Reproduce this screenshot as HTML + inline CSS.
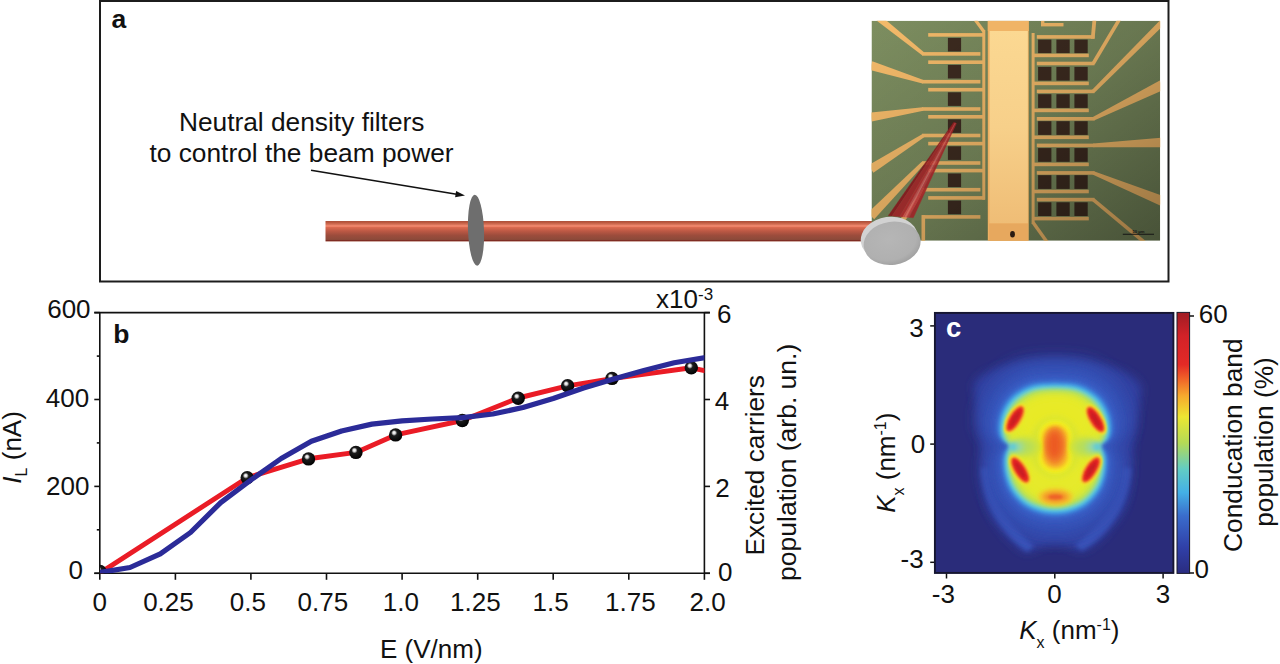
<!DOCTYPE html><html><head><meta charset="utf-8"><title>Figure</title>
<style>html,body{margin:0;padding:0;background:#fff;}svg{display:block;}text{font-family:"Liberation Sans",Arial,sans-serif;}</style></head><body>
<svg width="1280" height="664" viewBox="0 0 1280 664">
<defs>
<linearGradient id="rod" x1="0" y1="0" x2="0" y2="1">
<stop offset="0" stop-color="#a9503c"/>
<stop offset="0.06" stop-color="#b9553c"/>
<stop offset="0.2" stop-color="#e07a60"/>
<stop offset="0.24" stop-color="#f98e74"/>
<stop offset="0.32" stop-color="#d9694f"/>
<stop offset="0.5" stop-color="#bb5844"/>
<stop offset="0.7" stop-color="#9c4c3c"/>
<stop offset="0.9" stop-color="#8c4a3a"/>
<stop offset="0.95" stop-color="#7e2a22"/>
<stop offset="1" stop-color="#a25a4a"/>
</linearGradient>
<linearGradient id="chipg" x1="0" y1="0" x2="1" y2="1">
<stop offset="0" stop-color="#7d8e60"/>
<stop offset="1" stop-color="#74855a"/>
</linearGradient>
<linearGradient id="chipshade" x1="0" y1="0" x2="1" y2="1">
<stop offset="0" stop-color="#000" stop-opacity="0"/>
<stop offset="0.5" stop-color="#000" stop-opacity="0.14"/>
<stop offset="1" stop-color="#000" stop-opacity="0.38"/>
</linearGradient>
<linearGradient id="stripg" x1="0" y1="0" x2="0" y2="1">
<stop offset="0" stop-color="#fbd892"/>
<stop offset="0.5" stop-color="#f7d08a"/>
<stop offset="1" stop-color="#efbd76"/>
</linearGradient>
<linearGradient id="coneg" x1="0" y1="0" x2="1" y2="0">
<stop offset="0" stop-color="#8e1c20"/>
<stop offset="0.45" stop-color="#b42a2e"/>
<stop offset="0.62" stop-color="#d85a5c"/>
<stop offset="0.75" stop-color="#c0363a"/>
<stop offset="1" stop-color="#a02428"/>
</linearGradient>
<radialGradient id="sph" cx="0.42" cy="0.4" r="0.62" fx="0.38" fy="0.33">
<stop offset="0" stop-color="#ffffff"/>
<stop offset="0.16" stop-color="#dcdcdc"/>
<stop offset="0.36" stop-color="#1c1c1c"/>
<stop offset="1" stop-color="#000000"/>
</radialGradient>
<linearGradient id="cbar" x1="0" y1="1" x2="0" y2="0">
<stop offset="0" stop-color="#2a2c80"/>
<stop offset="0.1" stop-color="#3040a8"/>
<stop offset="0.22" stop-color="#3a6ccc"/>
<stop offset="0.31" stop-color="#44b0e6"/>
<stop offset="0.4" stop-color="#62ccc4"/>
<stop offset="0.5" stop-color="#b4da56"/>
<stop offset="0.6" stop-color="#ece632"/>
<stop offset="0.68" stop-color="#f6aa2e"/>
<stop offset="0.75" stop-color="#f05e28"/>
<stop offset="0.8" stop-color="#e42a26"/>
<stop offset="0.91" stop-color="#d22228"/>
<stop offset="1" stop-color="#a01c24"/>
</linearGradient>
<clipPath id="clipb"><rect x="100" y="312.6" width="604.4" height="260.7"/></clipPath>
<clipPath id="clipc"><rect x="934" y="312" width="240" height="261.5"/></clipPath>
<clipPath id="clipchip"><rect x="871.5" y="20.7" width="288.7" height="220"/></clipPath>
<filter id="b1" x="-50%" y="-50%" width="200%" height="200%"><feGaussianBlur stdDeviation="1"/></filter>
<filter id="b2" x="-50%" y="-50%" width="200%" height="200%"><feGaussianBlur stdDeviation="2"/></filter>
<filter id="b3" x="-50%" y="-50%" width="200%" height="200%"><feGaussianBlur stdDeviation="3"/></filter>
<filter id="b5" x="-50%" y="-50%" width="200%" height="200%"><feGaussianBlur stdDeviation="5"/></filter>
<filter id="b8" x="-50%" y="-50%" width="200%" height="200%"><feGaussianBlur stdDeviation="8"/></filter>
<filter id="b12" x="-50%" y="-50%" width="200%" height="200%"><feGaussianBlur stdDeviation="12"/></filter>
<filter id="b07" x="-20%" y="-20%" width="140%" height="140%"><feGaussianBlur stdDeviation="0.6"/></filter>
<radialGradient id="diskf" cx="0.45" cy="0.4" r="0.6"><stop offset="0" stop-color="#b6b6b6"/><stop offset="0.8" stop-color="#b0b0b0"/><stop offset="1" stop-color="#a2a2a2"/></radialGradient>
</defs>
<rect width="1280" height="664" fill="#fff"/>
<rect x="100" y="1" width="1068.5" height="280.5" fill="none" stroke="#1c1c1c" stroke-width="2"/>
<text x="118.9" y="27.7" font-size="26.5" font-weight="bold" text-anchor="middle" fill="#111">a</text>
<text x="301.7" y="130.8" font-size="26.3" text-anchor="middle" fill="#111">Neutral density filters</text>
<text x="301.5" y="162" font-size="26.3" text-anchor="middle" fill="#111">to control the beam power</text>
<line x1="311" y1="170.3" x2="456.6" y2="194.2" stroke="#111" stroke-width="1.6"/>
<polygon points="465,195.6 455.1,197.2 456.1,190.9" fill="#111"/>
<rect x="325.5" y="221" width="560" height="20.5" fill="url(#rod)"/>
<ellipse cx="476" cy="230.2" rx="8" ry="35.5" fill="#6e6e6e" transform="rotate(-2 476 230.2)"/>
<g clip-path="url(#clipchip)">
<rect x="871.5" y="20.7" width="288.7" height="220" fill="url(#chipg)"/>
<rect x="947.9" y="37.9" width="13.2" height="13.6" fill="#3d2b20"/>
<rect x="947.9" y="64.9" width="13.2" height="13.6" fill="#3d2b20"/>
<rect x="947.9" y="92.3" width="13.2" height="13.6" fill="#3d2b20"/>
<rect x="947.9" y="119.3" width="13.2" height="13.6" fill="#3d2b20"/>
<rect x="947.9" y="146.3" width="13.2" height="13.6" fill="#3d2b20"/>
<rect x="947.9" y="173.5" width="13.2" height="13.6" fill="#3d2b20"/>
<rect x="947.9" y="200.6" width="13.2" height="13.6" fill="#3d2b20"/>
<rect x="1038.1" y="39.6" width="13.3" height="13.7" fill="#3d2b20"/>
<rect x="1056.4" y="39.6" width="13.3" height="13.7" fill="#3d2b20"/>
<rect x="1074.4" y="39.6" width="13.3" height="13.7" fill="#3d2b20"/>
<rect x="1038.1" y="66.9" width="13.3" height="13.7" fill="#3d2b20"/>
<rect x="1056.4" y="66.9" width="13.3" height="13.7" fill="#3d2b20"/>
<rect x="1074.4" y="66.9" width="13.3" height="13.7" fill="#3d2b20"/>
<rect x="1038.1" y="94.2" width="13.3" height="13.7" fill="#3d2b20"/>
<rect x="1056.4" y="94.2" width="13.3" height="13.7" fill="#3d2b20"/>
<rect x="1074.4" y="94.2" width="13.3" height="13.7" fill="#3d2b20"/>
<rect x="1038.1" y="121.2" width="13.3" height="13.7" fill="#3d2b20"/>
<rect x="1056.4" y="121.2" width="13.3" height="13.7" fill="#3d2b20"/>
<rect x="1074.4" y="121.2" width="13.3" height="13.7" fill="#3d2b20"/>
<rect x="1038.1" y="148.1" width="13.3" height="13.7" fill="#3d2b20"/>
<rect x="1056.4" y="148.1" width="13.3" height="13.7" fill="#3d2b20"/>
<rect x="1074.4" y="148.1" width="13.3" height="13.7" fill="#3d2b20"/>
<rect x="1038.1" y="175.2" width="13.3" height="13.7" fill="#3d2b20"/>
<rect x="1056.4" y="175.2" width="13.3" height="13.7" fill="#3d2b20"/>
<rect x="1074.4" y="175.2" width="13.3" height="13.7" fill="#3d2b20"/>
<rect x="1038.1" y="202.3" width="13.3" height="13.7" fill="#3d2b20"/>
<rect x="1056.4" y="202.3" width="13.3" height="13.7" fill="#3d2b20"/>
<rect x="1074.4" y="202.3" width="13.3" height="13.7" fill="#3d2b20"/>
<rect x="928.2" y="33.1" width="56.8" height="3.6" fill="#f5bb6a"/>
<rect x="928.2" y="60.4" width="56.8" height="3.6" fill="#f5bb6a"/>
<rect x="928.2" y="87.9" width="56.8" height="3.6" fill="#f5bb6a"/>
<rect x="928.2" y="115.0" width="56.8" height="3.6" fill="#f5bb6a"/>
<rect x="928.2" y="141.8" width="56.8" height="3.6" fill="#f5bb6a"/>
<rect x="928.2" y="168.8" width="56.8" height="3.6" fill="#f5bb6a"/>
<rect x="928.2" y="196.1" width="56.8" height="3.6" fill="#f5bb6a"/>
<rect x="982.3" y="30" width="3" height="169.7" fill="#f5bb6a"/>
<line x1="975.4" y1="20.0" x2="983.8" y2="31.5" stroke="#f5bb6a" stroke-width="3.2" stroke-linecap="butt"/>
<rect x="922.0" y="52.1" width="58.4" height="3.6" fill="#f5bb6a"/>
<rect x="922.0" y="79.9" width="58.4" height="3.6" fill="#f5bb6a"/>
<rect x="922.0" y="107.2" width="58.4" height="3.6" fill="#f5bb6a"/>
<rect x="922.0" y="133.7" width="58.4" height="3.6" fill="#f5bb6a"/>
<rect x="922.0" y="161.2" width="58.4" height="3.6" fill="#f5bb6a"/>
<rect x="922.0" y="187.9" width="58.4" height="3.6" fill="#f5bb6a"/>
<rect x="922.0" y="215.1" width="58.4" height="3.6" fill="#f5bb6a"/>
<polygon points="924.3,52.5 880.5,15.5 876.5,20.5 922.1,55.3" fill="#f5bb6a"/>
<polygon points="923.5,80.0 872.3,61.2 869.7,69.8 922.5,83.4" fill="#f5bb6a"/>
<polygon points="922.7,107.2 870.3,112.6 871.7,121.4 923.3,110.8" fill="#f5bb6a"/>
<polygon points="922.5,134.0 868.6,165.2 873.4,172.8 924.5,137.0" fill="#f5bb6a"/>
<polygon points="921.7,161.7 867.8,212.8 874.2,219.2 924.3,164.3" fill="#f5bb6a"/>
<polygon points="922.5,188.7 882.5,243.3 887.5,246.7 925.5,190.7" fill="#f5bb6a"/>
<rect x="921.5" y="215.1" width="3.6" height="30" fill="#f5bb6a"/>
<rect x="1031.6" y="33" width="3" height="191" fill="#f5bb6a"/>
<line x1="1033.1" y1="222.5" x2="1047.0" y2="242.0" stroke="#f5bb6a" stroke-width="3.4" stroke-linecap="butt"/>
<rect x="1032.0" y="53.6" width="56.8" height="3.6" fill="#f5bb6a"/>
<rect x="1032.0" y="81.6" width="56.8" height="3.6" fill="#f5bb6a"/>
<rect x="1032.0" y="108.6" width="56.8" height="3.6" fill="#f5bb6a"/>
<rect x="1032.0" y="135.5" width="56.8" height="3.6" fill="#f5bb6a"/>
<rect x="1032.0" y="162.6" width="56.8" height="3.6" fill="#f5bb6a"/>
<rect x="1032.0" y="189.7" width="56.8" height="3.6" fill="#f5bb6a"/>
<rect x="1032.0" y="216.8" width="56.8" height="3.6" fill="#f5bb6a"/>
<rect x="1036.8" y="35.1" width="57.7" height="3.6" fill="#f5bb6a"/>
<rect x="1036.8" y="61.7" width="57.7" height="3.6" fill="#f5bb6a"/>
<rect x="1036.8" y="89.6" width="57.7" height="3.6" fill="#f5bb6a"/>
<rect x="1036.8" y="117.0" width="57.7" height="3.6" fill="#f5bb6a"/>
<rect x="1036.8" y="143.6" width="57.7" height="3.6" fill="#f5bb6a"/>
<rect x="1036.8" y="171.1" width="57.7" height="3.6" fill="#f5bb6a"/>
<rect x="1036.8" y="197.8" width="57.7" height="3.6" fill="#f5bb6a"/>
<polygon points="1090.8,38.7 1094.6,38.7 1096.4,19 1092.6,19" fill="#f5bb6a"/>
<line x1="1093.2" y1="63.5" x2="1119.6" y2="19.0" stroke="#f5bb6a" stroke-width="3.6" stroke-linecap="butt"/>
<polygon points="1094.5,92.7 1164.1,24.6 1159.9,20.4 1091.9,90.1" fill="#f5bb6a"/>
<polygon points="1094.0,120.4 1164.2,89.5 1159.8,80.5 1092.4,117.2" fill="#f5bb6a"/>
<polygon points="1093.3,147.2 1162.2,147.2 1161.8,137.8 1093.1,143.6" fill="#f5bb6a"/>
<polygon points="1092.5,174.6 1160.1,205.6 1163.9,196.4 1093.9,171.2" fill="#f5bb6a"/>
<line x1="1093.2" y1="199.6" x2="1146.5" y2="244.0" stroke="#f5bb6a" stroke-width="3.6" stroke-linecap="butt"/>
<rect x="1041" y="23" width="22.5" height="3.4" fill="#f5bb6a"/>
<rect x="1041" y="20.7" width="3.4" height="5" fill="#f5bb6a"/>
<rect x="871.5" y="20.7" width="288.7" height="220" fill="url(#chipshade)"/>
<rect x="987.8" y="20.7" width="40.9" height="222" fill="#eeb062"/>
<rect x="989.6" y="31" width="38.2" height="192.5" fill="url(#stripg)"/>
<rect x="987.8" y="20.7" width="40.9" height="10.3" fill="#f0b466"/>
<rect x="989" y="223.5" width="39" height="18" fill="#e7a85e"/>
<ellipse cx="1012.5" cy="234.3" rx="2.4" ry="3.2" fill="#2a1a12"/>
<line x1="1122.8" y1="234.3" x2="1154" y2="234.3" stroke="#141414" stroke-width="1.1"/>
<text x="1138.5" y="232.6" font-size="4.2" font-weight="bold" text-anchor="middle" fill="#141414">50 μm</text>
</g>
<g filter="url(#b07)" opacity="0.9">
<polygon points="953.60,122.20 954.02,122.38 891.98,216.10 888.20,215.80" fill="#84181c" stroke="#84181c" stroke-width="0.3"/>
<polygon points="954.02,122.38 954.86,122.74 899.54,216.70 891.98,216.10" fill="#9c2226" stroke="#9c2226" stroke-width="0.3"/>
<polygon points="954.86,122.74 955.22,122.90 902.82,216.96 899.54,216.70" fill="#ac282c" stroke="#ac282c" stroke-width="0.3"/>
<polygon points="955.22,122.90 955.45,122.99 904.83,217.12 902.82,216.96" fill="#c04448" stroke="#c04448" stroke-width="0.3"/>
<polygon points="955.45,122.99 955.64,123.08 906.60,217.26 904.83,217.12" fill="#cc6060" stroke="#cc6060" stroke-width="0.3"/>
<polygon points="955.64,123.08 955.95,123.21 909.37,217.48 906.60,217.26" fill="#b4343a" stroke="#b4343a" stroke-width="0.3"/>
<polygon points="955.95,123.21 956.40,123.40 913.40,217.80 909.37,217.48" fill="#a02428" stroke="#a02428" stroke-width="0.3"/>
</g>
<g transform="rotate(-8 891 241)">
<ellipse cx="889.6" cy="238.2" rx="28.6" ry="21.6" fill="#d2d2d2"/>
<ellipse cx="891.8" cy="243.4" rx="28.6" ry="21.6" fill="url(#diskf)"/>
</g>
<g stroke="#111" stroke-width="1.6" fill="none">
<path d="M94.3,312.6 H709.8 M99.8,312.6 V573.3 M704.4,312.6 V573.3 M94.3,573.3 H710"/>
<path d="M99.8,573.3 V579.8"/>
<path d="M175.4,573.3 V579.8"/>
<path d="M250.9,573.3 V579.8"/>
<path d="M326.5,573.3 V579.8"/>
<path d="M402.1,573.3 V579.8"/>
<path d="M477.7,573.3 V579.8"/>
<path d="M553.2,573.3 V579.8"/>
<path d="M628.8,573.3 V579.8"/>
<path d="M704.4,573.3 V579.8"/>
<path d="M94.3,573.3 H99.8"/>
<path d="M94.3,486.4 H99.8"/>
<path d="M94.3,399.5 H99.8"/>
<path d="M94.3,312.6 H99.8"/>
<path d="M96.8,529.8 H99.8"/>
<path d="M96.8,442.9 H99.8"/>
<path d="M96.8,356.1 H99.8"/>
<path d="M704.4,573.3 H710"/>
<path d="M704.4,486.4 H710"/>
<path d="M704.4,399.5 H710"/>
<path d="M704.4,312.6 H710"/>
</g>
<text x="99.85" y="610.6" font-size="26" text-anchor="middle" fill="#111">0</text>
<text x="168.45" y="610.6" font-size="26" text-anchor="middle" fill="#111">0.25</text>
<text x="247.8" y="610.6" font-size="26" text-anchor="middle" fill="#111">0.5</text>
<text x="322.85" y="610.6" font-size="26" text-anchor="middle" fill="#111">0.75</text>
<text x="400.95" y="610.6" font-size="26" text-anchor="middle" fill="#111">1.0</text>
<text x="475.4" y="610.6" font-size="26" text-anchor="middle" fill="#111">1.25</text>
<text x="550.7" y="610.6" font-size="26" text-anchor="middle" fill="#111">1.5</text>
<text x="630.4" y="610.6" font-size="26" text-anchor="middle" fill="#111">1.75</text>
<text x="707.65" y="610.6" font-size="26" text-anchor="middle" fill="#111">2.0</text>
<text x="68.9" y="317.50" font-size="26" text-anchor="middle" fill="#111">600</text>
<text x="67.55" y="407.35" font-size="26" text-anchor="middle" fill="#111">400</text>
<text x="67.8" y="494.65" font-size="26" text-anchor="middle" fill="#111">200</text>
<text x="75.65" y="579.40" font-size="26" text-anchor="middle" fill="#111">0</text>
<text x="724.3" y="323.40" font-size="26" text-anchor="middle" fill="#111">6</text>
<text x="722.1" y="409.50" font-size="26" text-anchor="middle" fill="#111">4</text>
<text x="722.4" y="496.65" font-size="26" text-anchor="middle" fill="#111">2</text>
<text x="725.3" y="581.35" font-size="26" text-anchor="middle" fill="#111">0</text>
<text x="656" y="308.2" font-size="26" fill="#111">x10</text>
<text x="698" y="299.6" font-size="17" fill="#111">-3</text>
<text x="121.3" y="343.35" font-size="26.5" font-weight="bold" text-anchor="middle" fill="#111">b</text>
<text x="431.3" y="658" font-size="26" text-anchor="middle" fill="#111">E (V/nm)</text>
<text transform="translate(21.3,447.4) rotate(-90)" font-size="26" text-anchor="middle" fill="#111"><tspan font-style="italic">I</tspan><tspan font-size="16" dy="6">L</tspan><tspan dy="-6"> (nA)</tspan></text>
<text transform="translate(763.8,465.3) rotate(-90)" font-size="26.2" text-anchor="middle" fill="#111">Excited carriers</text>
<text transform="translate(795.8,462.3) rotate(-90)" font-size="26.5" text-anchor="middle" fill="#111">population (arb. un.)</text>
<g clip-path="url(#clipb)">
<path d="M100.0,573.0 L247.2,477.7 L308.6,458.8 L355.9,452.4 L395.6,434.9 L462.3,420.5 L518.2,398.0 L567.6,385.8 L612.0,378.6 L691.3,367.8 L706.0,371.0" fill="none" stroke="#ea1c26" stroke-width="4.9" stroke-linejoin="round"/>
<circle cx="100" cy="571.5" r="6.7" fill="url(#sph)"/>
<circle cx="247.2" cy="477.7" r="6.7" fill="url(#sph)"/>
<circle cx="308.5" cy="458.9" r="6.7" fill="url(#sph)"/>
<circle cx="355.9" cy="452.4" r="6.7" fill="url(#sph)"/>
<circle cx="395.6" cy="434.9" r="6.7" fill="url(#sph)"/>
<circle cx="462.3" cy="420.5" r="6.7" fill="url(#sph)"/>
<circle cx="518.2" cy="398.3" r="6.7" fill="url(#sph)"/>
<circle cx="567.6" cy="385.8" r="6.7" fill="url(#sph)"/>
<circle cx="612" cy="378.4" r="6.7" fill="url(#sph)"/>
<circle cx="691.3" cy="367.8" r="6.7" fill="url(#sph)"/>
<path d="M99.8,572.5 L130.0,567.5 L160.3,553.8 L190.5,532.5 L220.7,502.6 L250.9,480.0 L281.2,458.5 L311.4,441.3 L341.6,431.0 L371.9,424.1 L402.1,420.8 L432.3,419.0 L462.6,417.6 L492.8,414.0 L523.0,407.5 L553.2,398.5 L583.5,388.0 L613.7,379.0 L643.9,370.5 L674.2,362.8 L706.0,357.5" fill="none" stroke="#2b2b98" stroke-width="5.2" stroke-linejoin="round"/>
</g>
<g clip-path="url(#clipc)">
<rect x="934" y="312" width="240" height="262" fill="#2a2c7a"/>
<path d="M1055.0,360.0 C1049.2,360.5 1030.3,361.3 1020.0,363.0 C1009.7,364.7 1000.5,366.8 993.0,370.0 C985.5,373.2 977.8,377.0 975.0,382.0 C972.2,387.0 975.3,393.7 976.0,400.0 C976.7,406.3 978.2,412.5 979.0,420.0 C979.8,427.5 980.3,434.5 981.0,445.0 C981.7,455.5 981.8,472.5 983.0,483.0 C984.2,493.5 985.5,500.8 988.0,508.0 C990.5,515.2 994.3,520.7 998.0,526.0 C1001.7,531.3 1005.3,535.7 1010.0,540.0 C1014.7,544.3 1021.0,550.8 1026.0,552.0 C1031.0,553.2 1035.2,548.3 1040.0,547.0 C1044.8,545.7 1050.0,544.0 1055.0,544.0 C1060.0,544.0 1065.5,545.8 1070.0,547.0 C1074.5,548.2 1077.0,552.2 1082.0,551.0 C1087.0,549.8 1095.0,544.2 1100.0,540.0 C1105.0,535.8 1108.0,531.3 1112.0,526.0 C1116.0,520.7 1121.0,515.2 1124.0,508.0 C1127.0,500.8 1128.5,493.5 1130.0,483.0 C1131.5,472.5 1131.8,455.5 1133.0,445.0 C1134.2,434.5 1135.8,427.5 1137.0,420.0 C1138.2,412.5 1139.5,406.0 1140.0,400.0 C1140.5,394.0 1143.3,389.0 1140.0,384.0 C1136.7,379.0 1128.3,373.5 1120.0,370.0 C1111.7,366.5 1100.8,364.7 1090.0,363.0 C1079.2,361.3 1060.8,360.5 1055.0,360.0 Z" fill="#3040a0" filter="url(#b5)"/>
<g filter="url(#b2)" fill="#3c5cc4" opacity="0.7">
<path d="M981,468 C983,500 999,532 1027,552 L1034,546 C1010,526 995,500 991,468 Z"/>
<path d="M1131,468 C1129,500 1113,532 1082,551 L1075,545 C1100,526 1115,500 1121,468 Z"/>
</g>
<path d="M1055.0,358.5 C1060.4,359.1 1078.0,359.0 1087.7,362.1 C1097.4,365.2 1106.6,371.0 1113.2,377.0 C1119.8,383.0 1124.3,391.2 1127.4,398.3 C1130.5,405.4 1131.4,413.7 1131.7,419.6 C1131.9,425.5 1130.7,430.2 1128.8,433.8 C1126.9,437.4 1122.7,438.8 1120.3,440.9 C1118.0,443.0 1114.4,444.7 1114.6,446.6 C1114.9,448.5 1120.0,449.2 1121.7,452.3 C1123.5,455.3 1125.1,459.4 1125.3,465.0 C1125.5,470.7 1124.9,479.2 1123.2,486.3 C1121.4,493.4 1118.9,501.0 1114.6,507.6 C1110.4,514.3 1104.0,521.4 1097.6,526.1 C1091.2,530.8 1083.4,533.9 1076.3,536.0 C1069.2,538.2 1062.1,538.9 1055.0,538.9 C1047.9,538.9 1040.8,538.2 1033.7,536.0 C1026.6,533.9 1018.8,530.8 1012.4,526.1 C1006.0,521.4 999.6,514.3 995.4,507.6 C991.1,501.0 988.6,493.4 986.8,486.3 C985.1,479.2 984.5,470.7 984.7,465.0 C984.9,459.4 986.5,455.3 988.3,452.3 C990.0,449.2 995.1,448.5 995.4,446.6 C995.6,444.7 992.0,443.0 989.7,440.9 C987.3,438.8 983.1,437.4 981.2,433.8 C979.3,430.2 978.1,425.5 978.3,419.6 C978.6,413.7 979.5,405.4 982.6,398.3 C985.7,391.2 990.2,383.0 996.8,377.0 C1003.4,371.0 1012.6,365.2 1022.3,362.1 C1032.0,359.0 1049.6,359.1 1055.0,358.5 Z" fill="#3349ac" filter="url(#b8)"/>
<path d="M1055.0,366.1 C1060.0,366.6 1076.0,366.5 1084.9,369.4 C1093.8,372.2 1102.2,377.5 1108.3,383.0 C1114.4,388.5 1118.5,396.0 1121.3,402.5 C1124.1,409.0 1125.0,416.6 1125.2,422.0 C1125.4,427.4 1124.3,431.8 1122.6,435.0 C1120.9,438.2 1117.0,439.6 1114.8,441.5 C1112.6,443.4 1109.4,445.0 1109.6,446.7 C1109.8,448.4 1114.5,449.1 1116.1,451.9 C1117.7,454.7 1119.1,458.4 1119.3,463.6 C1119.6,468.8 1119.0,476.6 1117.4,483.1 C1115.8,489.6 1113.5,496.5 1109.6,502.6 C1105.7,508.7 1099.8,515.2 1094.0,519.5 C1088.2,523.8 1081.0,526.6 1074.5,528.6 C1068.0,530.6 1061.5,531.2 1055.0,531.2 C1048.5,531.2 1042.0,530.6 1035.5,528.6 C1029.0,526.6 1021.9,523.8 1016.0,519.5 C1010.1,515.2 1004.3,508.7 1000.4,502.6 C996.5,496.5 994.2,489.6 992.6,483.1 C991.0,476.6 990.4,468.8 990.6,463.6 C990.9,458.4 992.3,454.7 993.9,451.9 C995.5,449.1 1000.2,448.4 1000.4,446.7 C1000.6,445.0 997.4,443.4 995.2,441.5 C993.0,439.6 989.1,438.2 987.4,435.0 C985.7,431.8 984.6,427.4 984.8,422.0 C985.0,416.6 985.9,409.0 988.7,402.5 C991.5,396.0 995.6,388.5 1001.7,383.0 C1007.8,377.5 1016.2,372.2 1025.1,369.4 C1034.0,366.5 1050.0,366.6 1055.0,366.1 Z" fill="#3552b8" filter="url(#b8)"/>
<path d="M1055.0,374.3 C1059.5,374.8 1073.9,374.7 1081.9,377.2 C1089.9,379.8 1097.5,384.5 1103.0,389.5 C1108.4,394.5 1112.1,401.2 1114.7,407.1 C1117.2,412.9 1118.0,419.7 1118.2,424.6 C1118.4,429.5 1117.4,433.4 1115.8,436.3 C1114.3,439.2 1110.8,440.4 1108.8,442.1 C1106.9,443.9 1103.9,445.3 1104.1,446.8 C1104.3,448.4 1108.5,449.0 1110.0,451.5 C1111.5,454.0 1112.7,457.4 1112.9,462.0 C1113.1,466.7 1112.6,473.7 1111.2,479.6 C1109.7,485.4 1107.7,491.7 1104.1,497.1 C1100.6,502.6 1095.4,508.5 1090.1,512.4 C1084.8,516.2 1078.4,518.8 1072.5,520.5 C1066.7,522.3 1060.8,522.9 1055.0,522.9 C1049.2,522.9 1043.3,522.3 1037.5,520.5 C1031.6,518.8 1025.2,516.2 1019.9,512.4 C1014.6,508.5 1009.4,502.6 1005.9,497.1 C1002.4,491.7 1000.3,485.4 998.8,479.6 C997.4,473.7 996.9,466.7 997.1,462.0 C997.3,457.4 998.5,454.0 1000.0,451.5 C1001.5,449.0 1005.7,448.4 1005.9,446.8 C1006.1,445.3 1003.1,443.9 1001.2,442.1 C999.2,440.4 995.7,439.2 994.2,436.3 C992.6,433.4 991.6,429.5 991.8,424.6 C992.0,419.7 992.8,412.9 995.3,407.1 C997.9,401.2 1001.6,394.5 1007.0,389.5 C1012.5,384.5 1020.1,379.8 1028.1,377.2 C1036.1,374.7 1050.5,374.8 1055.0,374.3 Z" fill="#3858c0" filter="url(#b5)"/>
<path d="M1055.0,379.3 C1059.2,379.8 1072.6,379.7 1080.1,382.1 C1087.5,384.4 1094.6,388.9 1099.7,393.5 C1104.8,398.1 1108.2,404.4 1110.6,409.9 C1113.0,415.3 1113.7,421.7 1113.9,426.2 C1114.0,430.7 1113.1,434.4 1111.7,437.1 C1110.2,439.8 1107.0,440.9 1105.1,442.6 C1103.3,444.2 1100.6,445.5 1100.8,446.9 C1101.0,448.4 1104.9,448.9 1106.2,451.3 C1107.6,453.6 1108.8,456.7 1109.0,461.1 C1109.1,465.4 1108.7,472.0 1107.3,477.4 C1106.0,482.9 1104.0,488.7 1100.8,493.8 C1097.5,498.9 1092.6,504.3 1087.7,507.9 C1082.8,511.6 1076.8,513.9 1071.3,515.6 C1065.9,517.2 1060.5,517.8 1055.0,517.8 C1049.5,517.8 1044.1,517.2 1038.7,515.6 C1033.2,513.9 1027.2,511.6 1022.3,507.9 C1017.4,504.3 1012.5,498.9 1009.2,493.8 C1006.0,488.7 1004.0,482.9 1002.7,477.4 C1001.3,472.0 1000.9,465.4 1001.0,461.1 C1001.2,456.7 1002.4,453.6 1003.8,451.3 C1005.1,448.9 1009.0,448.4 1009.2,446.9 C1009.4,445.5 1006.7,444.2 1004.9,442.6 C1003.0,440.9 999.8,439.8 998.3,437.1 C996.9,434.4 996.0,430.7 996.1,426.2 C996.3,421.7 997.0,415.3 999.4,409.9 C1001.8,404.4 1005.2,398.1 1010.3,393.5 C1015.4,388.9 1022.5,384.4 1029.9,382.1 C1037.4,379.7 1050.8,379.8 1055.0,379.3 Z" fill="#3a66cc" filter="url(#b3)"/>
<path d="M1055.0,381.9 C1059.0,382.3 1072.0,382.2 1079.2,384.5 C1086.3,386.8 1093.2,391.0 1098.0,395.5 C1102.9,400.0 1106.3,406.0 1108.5,411.2 C1110.8,416.5 1111.5,422.6 1111.7,427.0 C1111.9,431.4 1111.0,434.9 1109.6,437.5 C1108.2,440.1 1105.0,441.2 1103.3,442.8 C1101.5,444.3 1098.9,445.6 1099.1,446.9 C1099.3,448.3 1103.0,448.9 1104.3,451.1 C1105.7,453.4 1106.8,456.4 1107.0,460.6 C1107.1,464.8 1106.7,471.1 1105.4,476.4 C1104.1,481.6 1102.2,487.2 1099.1,492.1 C1095.9,497.0 1091.2,502.2 1086.5,505.8 C1081.8,509.2 1076.0,511.5 1070.8,513.1 C1065.5,514.7 1060.2,515.2 1055.0,515.2 C1049.8,515.2 1044.5,514.7 1039.2,513.1 C1034.0,511.5 1028.2,509.2 1023.5,505.8 C1018.8,502.2 1014.0,497.0 1010.9,492.1 C1007.8,487.2 1005.9,481.6 1004.6,476.4 C1003.3,471.1 1002.9,464.8 1003.0,460.6 C1003.2,456.4 1004.3,453.4 1005.6,451.1 C1007.0,448.9 1010.7,448.3 1010.9,446.9 C1011.1,445.6 1008.5,444.3 1006.7,442.8 C1005.0,441.2 1001.8,440.1 1000.4,437.5 C999.0,434.9 998.1,431.4 998.3,427.0 C998.5,422.6 999.2,416.5 1001.5,411.2 C1003.7,406.0 1007.1,400.0 1012.0,395.5 C1016.9,391.0 1023.7,386.8 1030.8,384.5 C1038.0,382.2 1051.0,382.3 1055.0,381.9 Z" fill="#3c84dc" filter="url(#b2)"/>
<path d="M1055.0,384.4 C1058.9,384.8 1071.3,384.7 1078.2,386.9 C1085.1,389.1 1091.7,393.2 1096.4,397.5 C1101.1,401.8 1104.3,407.6 1106.5,412.6 C1108.7,417.7 1109.4,423.6 1109.5,427.8 C1109.7,432.0 1108.9,435.4 1107.5,437.9 C1106.2,440.4 1103.1,441.4 1101.5,442.9 C1099.8,444.5 1097.3,445.6 1097.4,447.0 C1097.6,448.3 1101.2,448.8 1102.5,451.0 C1103.7,453.2 1104.8,456.1 1105.0,460.1 C1105.2,464.2 1104.7,470.2 1103.5,475.3 C1102.2,480.3 1100.5,485.7 1097.4,490.4 C1094.4,495.1 1089.8,500.2 1085.3,503.6 C1080.8,506.9 1075.2,509.1 1070.2,510.6 C1065.1,512.1 1060.0,512.6 1055.0,512.6 C1050.0,512.6 1044.9,512.1 1039.8,510.6 C1034.8,509.1 1029.2,506.9 1024.7,503.6 C1020.2,500.2 1015.6,495.1 1012.6,490.4 C1009.6,485.7 1007.8,480.3 1006.5,475.3 C1005.3,470.2 1004.8,464.2 1005.0,460.1 C1005.2,456.1 1006.3,453.2 1007.5,451.0 C1008.8,448.8 1012.4,448.3 1012.6,447.0 C1012.7,445.6 1010.2,444.5 1008.5,442.9 C1006.9,441.4 1003.8,440.4 1002.5,437.9 C1001.1,435.4 1000.3,432.0 1000.5,427.8 C1000.6,423.6 1001.3,417.7 1003.5,412.6 C1005.7,407.6 1008.9,401.8 1013.6,397.5 C1018.3,393.2 1024.9,389.1 1031.8,386.9 C1038.7,384.7 1051.1,384.8 1055.0,384.4 Z" fill="#46bcec" filter="url(#b2)"/>
<path d="M1055.0,386.8 C1058.7,387.2 1070.7,387.1 1077.4,389.2 C1084.0,391.3 1090.3,395.3 1094.9,399.4 C1099.4,403.5 1102.5,409.1 1104.6,414.0 C1106.7,418.8 1107.3,424.5 1107.5,428.6 C1107.7,432.6 1106.8,435.8 1105.5,438.3 C1104.2,440.7 1101.3,441.7 1099.7,443.1 C1098.1,444.6 1095.7,445.7 1095.8,447.0 C1096.0,448.3 1099.5,448.8 1100.7,450.9 C1101.9,453.0 1103.0,455.8 1103.1,459.7 C1103.3,463.6 1102.9,469.4 1101.7,474.2 C1100.4,479.1 1098.7,484.3 1095.8,488.8 C1092.9,493.4 1088.5,498.2 1084.2,501.5 C1079.8,504.7 1074.4,506.8 1069.6,508.3 C1064.7,509.7 1059.9,510.2 1055.0,510.2 C1050.1,510.2 1045.3,509.7 1040.4,508.3 C1035.6,506.8 1030.2,504.7 1025.8,501.5 C1021.5,498.2 1017.1,493.4 1014.2,488.8 C1011.3,484.3 1009.6,479.1 1008.3,474.2 C1007.1,469.4 1006.7,463.6 1006.9,459.7 C1007.0,455.8 1008.1,453.0 1009.3,450.9 C1010.5,448.8 1014.0,448.3 1014.2,447.0 C1014.3,445.7 1011.9,444.6 1010.3,443.1 C1008.7,441.7 1005.8,440.7 1004.5,438.3 C1003.2,435.8 1002.3,432.6 1002.5,428.6 C1002.7,424.5 1003.3,418.8 1005.4,414.0 C1007.5,409.1 1010.6,403.5 1015.1,399.4 C1019.7,395.3 1026.0,391.3 1032.6,389.2 C1039.3,387.1 1051.3,387.2 1055.0,386.8 Z" fill="#6cd2d8" filter="url(#b2)"/>
<path d="M1055.0,389.3 C1058.6,389.7 1070.1,389.6 1076.4,391.6 C1082.8,393.6 1088.9,397.4 1093.2,401.4 C1097.6,405.4 1100.5,410.7 1102.5,415.4 C1104.6,420.0 1105.2,425.5 1105.3,429.4 C1105.5,433.2 1104.7,436.4 1103.5,438.7 C1102.2,441.0 1099.4,441.9 1097.9,443.3 C1096.3,444.7 1094.0,445.8 1094.1,447.1 C1094.3,448.3 1097.6,448.8 1098.8,450.8 C1100.0,452.8 1101.0,455.5 1101.1,459.2 C1101.3,462.9 1100.9,468.5 1099.7,473.2 C1098.6,477.8 1096.9,482.8 1094.1,487.1 C1091.3,491.5 1087.2,496.2 1083.0,499.3 C1078.8,502.4 1073.6,504.4 1069.0,505.8 C1064.3,507.2 1059.7,507.6 1055.0,507.6 C1050.3,507.6 1045.7,507.2 1041.0,505.8 C1036.4,504.4 1031.2,502.4 1027.0,499.3 C1022.8,496.2 1018.7,491.5 1015.9,487.1 C1013.1,482.8 1011.4,477.8 1010.3,473.2 C1009.1,468.5 1008.7,462.9 1008.9,459.2 C1009.0,455.5 1010.0,452.8 1011.2,450.8 C1012.4,448.8 1015.7,448.3 1015.9,447.1 C1016.0,445.8 1013.7,444.7 1012.1,443.3 C1010.6,441.9 1007.8,441.0 1006.5,438.7 C1005.3,436.4 1004.5,433.2 1004.7,429.4 C1004.8,425.5 1005.4,420.0 1007.5,415.4 C1009.5,410.7 1012.4,405.4 1016.8,401.4 C1021.1,397.4 1027.2,393.6 1033.6,391.6 C1039.9,389.6 1051.4,389.7 1055.0,389.3 Z" fill="#a8de6a" filter="url(#b2)"/>
<path d="M1055.0,392.1 C1058.4,392.5 1069.3,392.4 1075.4,394.3 C1081.5,396.3 1087.2,399.9 1091.4,403.6 C1095.5,407.4 1098.3,412.5 1100.2,417.0 C1102.2,421.4 1102.8,426.6 1102.9,430.3 C1103.0,434.0 1102.3,436.9 1101.1,439.1 C1099.9,441.3 1097.3,442.2 1095.8,443.6 C1094.3,444.9 1092.1,445.9 1092.3,447.1 C1092.4,448.3 1095.6,448.7 1096.7,450.7 C1097.8,452.6 1098.8,455.1 1098.9,458.6 C1099.1,462.2 1098.7,467.5 1097.6,471.9 C1096.5,476.4 1094.9,481.1 1092.3,485.3 C1089.6,489.4 1085.6,493.8 1081.6,496.8 C1077.6,499.7 1072.7,501.7 1068.3,503.0 C1063.9,504.3 1059.4,504.8 1055.0,504.8 C1050.6,504.8 1046.1,504.3 1041.7,503.0 C1037.3,501.7 1032.4,499.7 1028.4,496.8 C1024.4,493.8 1020.4,489.4 1017.7,485.3 C1015.1,481.1 1013.5,476.4 1012.4,471.9 C1011.3,467.5 1010.9,462.2 1011.1,458.6 C1011.2,455.1 1012.2,452.6 1013.3,450.7 C1014.4,448.7 1017.6,448.3 1017.7,447.1 C1017.9,445.9 1015.7,444.9 1014.2,443.6 C1012.7,442.2 1010.1,441.3 1008.9,439.1 C1007.7,436.9 1007.0,434.0 1007.1,430.3 C1007.2,426.6 1007.8,421.4 1009.8,417.0 C1011.7,412.5 1014.5,407.4 1018.6,403.6 C1022.8,399.9 1028.5,396.3 1034.6,394.3 C1040.7,392.4 1051.6,392.5 1055.0,392.1 Z" fill="#d0e63e" filter="url(#b3)"/>
<path d="M1055.0,396.3 C1058.1,396.7 1068.3,396.6 1073.9,398.4 C1079.5,400.2 1084.8,403.5 1088.6,407.0 C1092.4,410.5 1095.0,415.2 1096.8,419.3 C1098.6,423.4 1099.1,428.2 1099.3,431.6 C1099.4,435.0 1098.7,437.8 1097.6,439.8 C1096.5,441.9 1094.1,442.7 1092.7,443.9 C1091.4,445.1 1089.3,446.1 1089.4,447.2 C1089.6,448.3 1092.5,448.7 1093.5,450.5 C1094.6,452.2 1095.5,454.6 1095.6,457.8 C1095.7,461.1 1095.4,466.0 1094.4,470.1 C1093.3,474.2 1091.9,478.6 1089.4,482.4 C1087.0,486.3 1083.3,490.4 1079.6,493.1 C1075.9,495.8 1071.4,497.6 1067.3,498.8 C1063.2,500.1 1059.1,500.5 1055.0,500.5 C1050.9,500.5 1046.8,500.1 1042.7,498.8 C1038.6,497.6 1034.1,495.8 1030.4,493.1 C1026.7,490.4 1023.0,486.3 1020.6,482.4 C1018.1,478.6 1016.7,474.2 1015.6,470.1 C1014.6,466.0 1014.3,461.1 1014.4,457.8 C1014.5,454.6 1015.4,452.2 1016.5,450.5 C1017.5,448.7 1020.4,448.3 1020.6,447.2 C1020.7,446.1 1018.6,445.1 1017.3,443.9 C1015.9,442.7 1013.5,441.9 1012.4,439.8 C1011.3,437.8 1010.6,435.0 1010.7,431.6 C1010.9,428.2 1011.4,423.4 1013.2,419.3 C1015.0,415.2 1017.6,410.5 1021.4,407.0 C1025.2,403.5 1030.5,400.2 1036.1,398.4 C1041.7,396.6 1051.9,396.7 1055.0,396.3 Z" fill="#e2ea2c" filter="url(#b3)"/>
<ellipse cx="1055" cy="420" rx="36" ry="24" fill="#e8ea28" filter="url(#b5)" opacity="1"/>
<ellipse cx="1055" cy="476" rx="30" ry="22" fill="#e6ea2a" filter="url(#b5)" opacity="1"/>
<ellipse cx="1055" cy="447" rx="25" ry="30" fill="#d6e436" filter="url(#b3)" opacity="1"/>
<ellipse cx="1025" cy="447" rx="11" ry="9" fill="#b8de58" filter="url(#b3)" opacity="1"/>
<ellipse cx="1085" cy="447" rx="11" ry="9" fill="#b8de58" filter="url(#b3)" opacity="1"/>
<ellipse cx="1017" cy="447" rx="6.5" ry="6" fill="#90d8b0" filter="url(#b3)" opacity="1"/>
<ellipse cx="1093" cy="447" rx="6.5" ry="6" fill="#90d8b0" filter="url(#b3)" opacity="1"/>
<ellipse cx="1013" cy="447" rx="3.5" ry="4" fill="#5ac8e0" filter="url(#b2)" opacity="1"/>
<ellipse cx="1097" cy="447" rx="3.5" ry="4" fill="#5ac8e0" filter="url(#b2)" opacity="1"/>
<ellipse cx="1015" cy="418.8" rx="17" ry="8" fill="#f2e22a" transform="rotate(-59 1015 418.8)" filter="url(#b1)" opacity="1"/>
<ellipse cx="1095.5" cy="419.5" rx="17" ry="8" fill="#f2e22a" transform="rotate(59 1095.5 419.5)" filter="url(#b1)" opacity="1"/>
<ellipse cx="1020.1" cy="470" rx="17" ry="8" fill="#f2e22a" transform="rotate(58 1020.1 470)" filter="url(#b1)" opacity="1"/>
<ellipse cx="1091" cy="469.8" rx="17" ry="8" fill="#f2e22a" transform="rotate(-58 1091 469.8)" filter="url(#b1)" opacity="1"/>
<ellipse cx="1015" cy="418.8" rx="15" ry="6.5" fill="#f6a02c" transform="rotate(-59 1015 418.8)" filter="url(#b1)" opacity="1"/>
<ellipse cx="1095.5" cy="419.5" rx="15" ry="6.5" fill="#f6a02c" transform="rotate(59 1095.5 419.5)" filter="url(#b1)" opacity="1"/>
<ellipse cx="1020.1" cy="470" rx="15" ry="6.5" fill="#f6a02c" transform="rotate(58 1020.1 470)" filter="url(#b1)" opacity="1"/>
<ellipse cx="1091" cy="469.8" rx="15" ry="6.5" fill="#f6a02c" transform="rotate(-58 1091 469.8)" filter="url(#b1)" opacity="1"/>
<ellipse cx="1015" cy="418.8" rx="13.5" ry="4.8" fill="#e42424" transform="rotate(-59 1015 418.8)" filter="url(#b1)" opacity="1"/>
<ellipse cx="1095.5" cy="419.5" rx="13.5" ry="4.8" fill="#e42424" transform="rotate(59 1095.5 419.5)" filter="url(#b1)" opacity="1"/>
<ellipse cx="1020.1" cy="470" rx="13.5" ry="4.8" fill="#e42424" transform="rotate(58 1020.1 470)" filter="url(#b1)" opacity="1"/>
<ellipse cx="1091" cy="469.8" rx="13.5" ry="4.8" fill="#e42424" transform="rotate(-58 1091 469.8)" filter="url(#b1)" opacity="1"/>
<ellipse cx="1015" cy="418.8" rx="9" ry="2.2" fill="#c81c24" transform="rotate(-59 1015 418.8)" filter="url(#b1)" opacity="1"/>
<ellipse cx="1095.5" cy="419.5" rx="9" ry="2.2" fill="#c81c24" transform="rotate(59 1095.5 419.5)" filter="url(#b1)" opacity="1"/>
<ellipse cx="1020.1" cy="470" rx="9" ry="2.2" fill="#c81c24" transform="rotate(58 1020.1 470)" filter="url(#b1)" opacity="1"/>
<ellipse cx="1091" cy="469.8" rx="9" ry="2.2" fill="#c81c24" transform="rotate(-58 1091 469.8)" filter="url(#b1)" opacity="1"/>
<ellipse cx="1055.3" cy="435" rx="16.5" ry="14.5" fill="#f6f01a" filter="url(#b2)" opacity="1"/>
<ellipse cx="1055.3" cy="459" rx="16.5" ry="14.5" fill="#f6f01a" filter="url(#b2)" opacity="1"/>
<ellipse cx="1055.3" cy="447" rx="13" ry="14" fill="#f6f01a" filter="url(#b2)" opacity="1"/>
<ellipse cx="1055.3" cy="437" rx="12.5" ry="11.5" fill="#f6b02c" filter="url(#b2)" opacity="1"/>
<ellipse cx="1055.3" cy="457" rx="12.5" ry="11.5" fill="#f6b02c" filter="url(#b2)" opacity="1"/>
<ellipse cx="1055.3" cy="447" rx="10.5" ry="12" fill="#f6b02c" filter="url(#b2)" opacity="1"/>
<ellipse cx="1055" cy="446" rx="10.5" ry="18.5" fill="#f2842a" filter="url(#b2)" opacity="1"/>
<ellipse cx="1054.5" cy="445" rx="7.5" ry="14" fill="#ec5a22" filter="url(#b3)" opacity="1"/>
<ellipse cx="1055.5" cy="497" rx="17" ry="8.5" fill="#f6c22a" filter="url(#b2)" opacity="1"/>
<ellipse cx="1055.5" cy="497" rx="12" ry="5" fill="#f28a2a" filter="url(#b2)" opacity="1"/>
<ellipse cx="1055.5" cy="497" rx="7" ry="2.5" fill="#ee6426" filter="url(#b1)" opacity="1"/>
</g>
<rect x="934.9" y="312.9" width="238.5" height="260" fill="none" stroke="#161630" stroke-width="1.9"/>
<rect x="1177" y="312.4" width="12.6" height="261" fill="url(#cbar)" stroke="#1a1a2a" stroke-width="1"/>
<g stroke="#111" stroke-width="1.5">
<line x1="930.2" y1="325.9" x2="934" y2="325.9"/>
<line x1="930.2" y1="444.1" x2="934" y2="444.1"/>
<line x1="930.2" y1="562.3" x2="934" y2="562.3"/>
<line x1="946.5" y1="573.5" x2="946.5" y2="578.5"/>
<line x1="1054.8" y1="573.5" x2="1054.8" y2="578.5"/>
<line x1="1163.1" y1="573.5" x2="1163.1" y2="578.5"/>
<line x1="1189.6" y1="316" x2="1194" y2="316"/>
<line x1="1189.6" y1="573" x2="1194" y2="573"/>
</g>
<text x="916.4" y="337.05" font-size="26" text-anchor="middle" fill="#111">3</text>
<text x="917.9" y="453.40" font-size="26" text-anchor="middle" fill="#111">0</text>
<text x="912.1" y="568.35" font-size="26" text-anchor="middle" fill="#111">-3</text>
<text x="943.3" y="603.45" font-size="26" text-anchor="middle" fill="#111">-3</text>
<text x="1054.45" y="603.35" font-size="26" text-anchor="middle" fill="#111">0</text>
<text x="1163.05" y="602.70" font-size="26" text-anchor="middle" fill="#111">3</text>
<text x="1213.2" y="322.50" font-size="26" text-anchor="middle" fill="#111">60</text>
<text x="1201.7" y="577.75" font-size="26" text-anchor="middle" fill="#111">0</text>
<text x="953.55" y="337.4" font-size="27.5" font-weight="bold" text-anchor="middle" fill="#fff">c</text>
<text x="1069.4" y="639.1" font-size="26" text-anchor="middle" fill="#111"><tspan font-style="italic">K</tspan><tspan font-size="16" dy="8.5">x</tspan><tspan dy="-8.5"> (nm</tspan><tspan font-size="16" dy="-9">-1</tspan><tspan dy="9">)</tspan></text>
<text transform="translate(895.3,462.7) rotate(-90)" font-size="26" text-anchor="middle" fill="#111"><tspan font-style="italic">K</tspan><tspan font-size="16" dy="8.5">x</tspan><tspan dy="-8.5"> (nm</tspan><tspan font-size="16" dy="-9">-1</tspan><tspan dy="9">)</tspan></text>
<text transform="translate(1242.4,445.2) rotate(-90)" font-size="26.3" text-anchor="middle" fill="#111">Conducation band</text>
<text transform="translate(1273.4,442) rotate(-90)" font-size="26.3" text-anchor="middle" fill="#111">population (%)</text>
</svg></body></html>
